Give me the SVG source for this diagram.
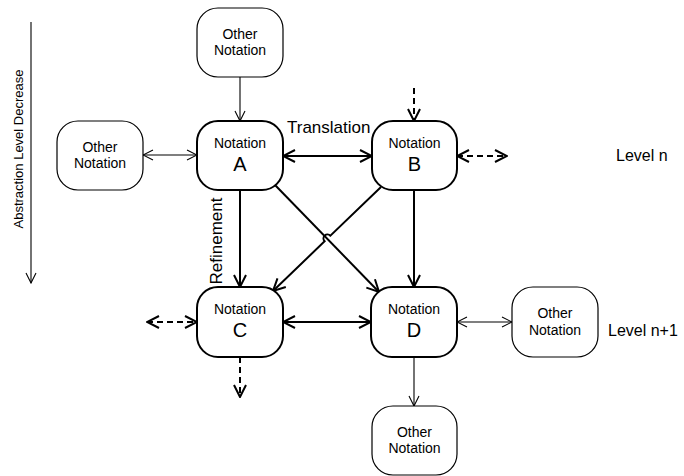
<svg xmlns="http://www.w3.org/2000/svg" width="684" height="476" viewBox="0 0 684 476">
<style>
text{font-family:"Liberation Sans",Arial,sans-serif;fill:#000}
.main{fill:#fff;stroke:#000;stroke-width:2}
.other{fill:#fff;stroke:#000;stroke-width:1.2}
.nt{font-size:14px;text-anchor:middle}
.big{font-size:20px;text-anchor:middle}
.lbl{font-size:16px}
.thick{stroke:#000;stroke-width:2;fill:none}
.thin{stroke:#000;stroke-width:1.1;fill:none}
.dash{stroke-dasharray:6,4}
</style>
<defs>
<marker id="hk" viewBox="0 0 14 14" refX="13" refY="7" markerWidth="14" markerHeight="14" markerUnits="userSpaceOnUse" orient="auto-start-reverse">
<path d="M1,1 L13,7 L1,13" fill="none" stroke="#000" stroke-width="2"/>
</marker>
<marker id="hn" viewBox="0 0 12 12" refX="11" refY="6" markerWidth="12" markerHeight="12" markerUnits="userSpaceOnUse" orient="auto-start-reverse">
<path d="M1,1 L11,6 L1,11" fill="none" stroke="#000" stroke-width="1.1"/>
</marker>
</defs>

<g id="connectors">
<line class="thin" x1="31" y1="22" x2="31" y2="283" marker-end="url(#hn)"/>
<line class="thin" x1="240" y1="77" x2="240" y2="121" marker-end="url(#hn)"/>
<line class="thin" x1="143" y1="155" x2="197" y2="155" marker-start="url(#hn)" marker-end="url(#hn)"/>
<line class="thick" x1="283" y1="156" x2="372" y2="156" marker-start="url(#hk)" marker-end="url(#hk)"/>
<line class="thick dash" x1="414" y1="88" x2="414" y2="121" marker-end="url(#hk)"/>
<line class="thick dash" x1="457" y1="156" x2="507" y2="156" marker-start="url(#hk)" marker-end="url(#hk)"/>
<line class="thick" x1="240" y1="190" x2="240" y2="287" marker-end="url(#hk)"/>
<line class="thick" x1="414" y1="190" x2="414" y2="287" marker-end="url(#hk)"/>
<line class="thick" x1="275" y1="185" x2="379" y2="292" marker-end="url(#hk)"/>
<path class="thick" d="M381,187 L330.4,235.7 A4,4 0 0 0 324.6,241.3 L273,291" marker-end="url(#hk)"/>
<line class="thick" x1="283" y1="322" x2="371" y2="322" marker-start="url(#hk)" marker-end="url(#hk)"/>
<line class="thick dash" x1="147" y1="322" x2="197" y2="322" marker-start="url(#hk)" marker-end="url(#hk)"/>
<line class="thick dash" x1="240" y1="357" x2="240" y2="397" marker-end="url(#hk)"/>
<line class="thin" x1="457" y1="322" x2="512" y2="322" marker-start="url(#hn)" marker-end="url(#hn)"/>
<line class="thin" x1="414" y1="357" x2="414" y2="406" marker-end="url(#hn)"/>
</g>

<g id="other-top">
<rect class="other" x="197" y="8" width="86" height="69" rx="21"/>
<text class="nt" x="240" y="39">Other</text>
<text class="nt" x="240" y="55">Notation</text>
</g>
<g id="other-left">
<rect class="other" x="57" y="121" width="86" height="69" rx="21"/>
<text class="nt" x="100" y="152">Other</text>
<text class="nt" x="100" y="168">Notation</text>
</g>
<g id="other-right">
<rect class="other" x="512" y="287" width="86" height="70" rx="21"/>
<text class="nt" x="555" y="318">Other</text>
<text class="nt" x="555" y="335">Notation</text>
</g>
<g id="other-bottom">
<rect class="other" x="372" y="406" width="85" height="69" rx="21"/>
<text class="nt" x="414.5" y="437">Other</text>
<text class="nt" x="414.5" y="453">Notation</text>
</g>

<g id="node-a">
<rect class="main" x="197" y="121" width="86" height="69" rx="21"/>
<text class="nt" x="240" y="148">Notation</text>
<text class="big" x="240" y="171">A</text>
</g>
<g id="node-b">
<rect class="main" x="372" y="121" width="85" height="69" rx="21"/>
<text class="nt" x="414.5" y="148">Notation</text>
<text class="big" x="414.5" y="171">B</text>
</g>
<g id="node-c">
<rect class="main" x="197" y="287" width="86" height="70" rx="21"/>
<text class="nt" x="240" y="314">Notation</text>
<text class="big" x="240" y="337">C</text>
</g>
<g id="node-d">
<rect class="main" x="371" y="287" width="86" height="70" rx="21"/>
<text class="nt" x="414" y="314">Notation</text>
<text class="big" x="414" y="337">D</text>
</g>

<g id="labels">
<text x="287" y="133" style="font-size:17px">Translation</text>
<text transform="translate(222,241) rotate(-90)" style="font-size:17px;text-anchor:middle">Refinement</text>
<text transform="translate(23,149) rotate(-90)" style="font-size:13px;text-anchor:middle">Abstraction Level Decrease</text>
<text class="lbl" x="616" y="161">Level n</text>
<text class="lbl" x="608" y="336">Level n+1</text>
</g>
</svg>
